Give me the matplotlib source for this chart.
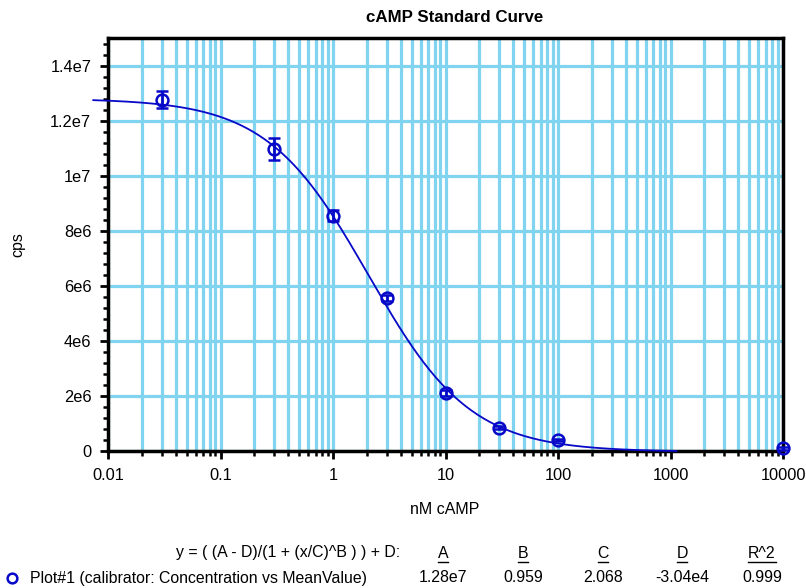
import matplotlib
matplotlib.use('Agg')
import matplotlib.pyplot as plt
from matplotlib.ticker import FixedLocator, FixedFormatter, LogLocator, MultipleLocator
import numpy as np

plt.rcParams['font.family'] = ['Liberation Sans', 'DejaVu Sans']

# data
conc = [0.03, 0.3, 1, 3, 10, 30, 100, 10000]
mean_cps = [1.276e7, 1.098e7, 8.55e6, 5.56e6, 2.11e6, 8.4e5, 4.0e5, 1.0e5]
err_cps = [3.0e5, 4.0e5, 2.0e5, 1.0e5, 1.0e5, 5.0e4, 5.0e4, 5.0e4]

# fitted 4PL parameters shown under the chart
fit_A, fit_B, fit_C, fit_D = 1.28e7, 0.959, 2.068, -3.04e4
curve_range = [0.0074, 1130]

x_ticks = [0.01, 0.1, 1, 10, 100, 1000, 10000]
x_labels = ['0.01', '0.1', '1', '10', '100', '1000', '10000']
y_ticks = [0, 2e6, 4e6, 6e6, 8e6, 1e7, 1.2e7, 1.4e7]
y_labels = ['0', '2e6', '4e6', '6e6', '8e6', '1e7', '1.2e7', '1.4e7']
heads = ['A', 'B', 'C', 'D', 'R^2']
vals = ['1.28e7', '0.959', '2.068', '-3.04e4', '0.999']

blue = '#0808c8'
gridc = '#80d4f0'
W, H = 806, 588

fig = plt.figure(figsize=(8.06, 5.88), dpi=100)
ax = fig.add_axes([108/W, 1-451/H, (783-108)/W, (451-38)/H])
ax.set_xscale('log')
ax.set_xlim(0.01, 10000)
ax.set_ylim(0, 1.5e7)

ax.xaxis.set_major_locator(FixedLocator(x_ticks))
ax.xaxis.set_major_formatter(FixedFormatter(x_labels))
ax.xaxis.set_minor_locator(LogLocator(base=10, subs=np.arange(2, 10)))
ax.xaxis.set_minor_formatter(FixedFormatter([]))
ax.yaxis.set_major_locator(FixedLocator(y_ticks))
ax.yaxis.set_major_formatter(FixedFormatter(y_labels))
ax.yaxis.set_minor_locator(MultipleLocator(4e5))
ax.grid(True, which='both', axis='x', color=gridc, lw=2.3, zorder=0)
ax.grid(True, which='major', axis='y', color=gridc, lw=2.3, zorder=0)
ax.set_axisbelow(True)

ax.tick_params(which='major', direction='out', length=6, width=2, labelsize=11.8, pad=6)
ax.tick_params(which='minor', direction='out', length=3.5, width=1.8)
for s in ax.spines.values():
    s.set_linewidth(2.5)

xs = np.logspace(np.log10(curve_range[0]), np.log10(curve_range[1]), 400)
ys = (fit_A - fit_D) / (1 + (xs / fit_C) ** fit_B) + fit_D
ax.plot(xs, ys, color=blue, lw=1.3, clip_on=False, zorder=3)

ax.errorbar(conc, mean_cps, yerr=err_cps, fmt='o', mfc='none', mec=blue, ms=8.5, mew=1.8,
            ecolor=blue, elinewidth=2, capsize=4, capthick=2, clip_on=False, zorder=4)

fig.text(455/W, 1-18/H, 'cAMP Standard Curve', ha='center', va='center',
         fontsize=12.2, fontweight='bold')
fig.text(18/W, 1-245/H, 'cps', rotation=90, ha='center', va='center', fontsize=11.5)
fig.text(445/W, 1-510/H, 'nM cAMP', ha='center', va='center', fontsize=11.5)

fig.text(400/W, 1-553/H, 'y = ( (A - D)/(1 + (x/C)^B ) ) + D:', ha='right', va='center', fontsize=11.4)
cols = [443, 523, 603, 682, 762]
for cx, hd, v in zip(cols, heads, vals):
    fig.text(cx/W, 1-553/H, hd, ha='center', va='center', fontsize=11.4)
    fig.text(cx/W, 1-578/H, v, ha='center', va='center', fontsize=11.4)
    fig.add_artist(plt.Line2D([(cx-len(hd)*4.7)/W, (cx+len(hd)*4.7)/W], [1-562/H, 1-562/H],
                              color='black', lw=1))
fig.add_artist(plt.Line2D([12/W], [1-578/H], marker='o', mfc='none', mec=blue, ms=7, mew=1.8))
fig.text(30/W, 1-578/H, 'Plot#1 (calibrator: Concentration vs MeanValue)', ha='left',
         va='center', fontsize=11.4)

fig.savefig('out.png', dpi=100)
